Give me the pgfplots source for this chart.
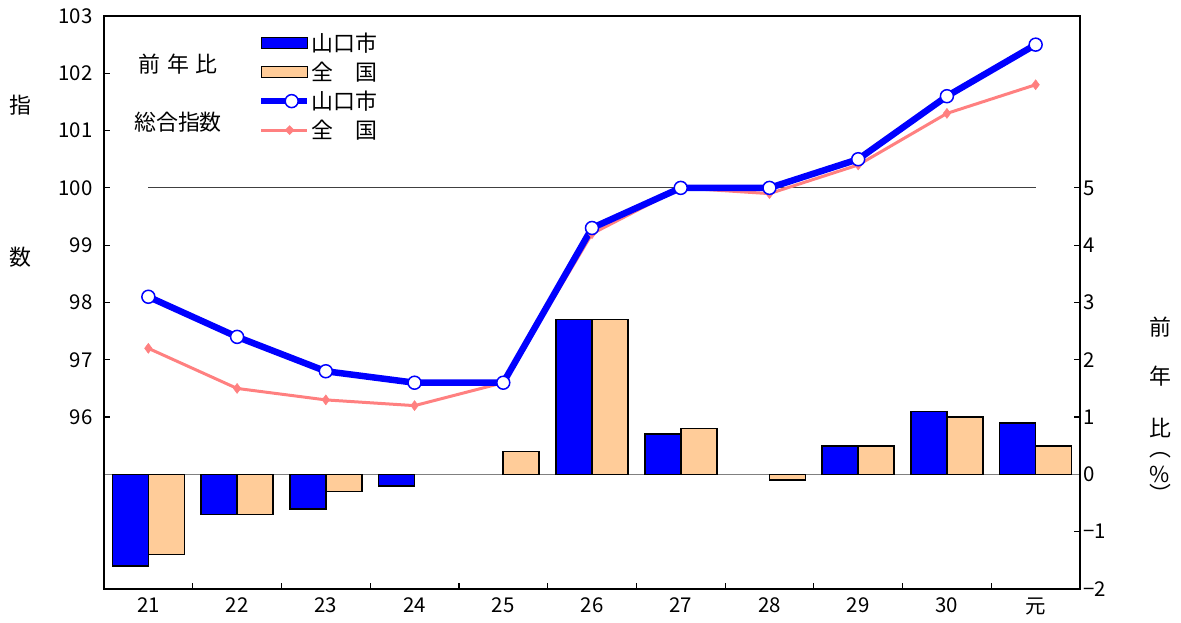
\documentclass[border=0pt]{standalone}
\usepackage{fontspec}
\setmainfont{Noto Sans CJK JP}
\usepackage{pgfplots}
\pgfplotsset{compat=1.18}
\usetikzlibrary{shapes.geometric}
\definecolor{ycol}{HTML}{0000FF}
\definecolor{ncol}{HTML}{FFCC99}
\definecolor{nline}{HTML}{FF8080}
\newcommand{\tf}{\fontsize{20.5}{22}\selectfont}
\newcommand{\jf}{\fontsize{22}{24}\selectfont}
\begin{document}
\begin{tikzpicture}[x=1bp,y=1bp]
\useasboundingbox (-104,-34) rectangle (1077,589);
% ---------- bars (right axis) ----------
\begin{axis}[at={(0,0)}, anchor=south west, scale only axis, width=976bp, height=573bp,
  xmin=-0.5, xmax=10.5, ymin=-2, ymax=8,
  axis x line=none, axis y line*=right, xtick=\empty,
  ytick={-2,-1,0,1,2,3,4,5}, yticklabels={−2,−1,0,1,2,3,4,5},
  yticklabel style={font=\tf},
  tick align=inside, major tick length=6bp,
  y axis line style={line width=2bp, -},
  ytick style={line width=1.2bp, black},
  clip=false]
\addplot[gray, line width=1.5bp, forget plot] coordinates {(-0.5,0) (10.5,0)};
\addplot[ybar, bar width=36bp, bar shift=-18bp, fill=ycol, draw=black, line width=1.6bp]
  coordinates {(0,-1.6) (1,-0.7) (2,-0.6) (3,-0.2) (5,2.7) (6,0.7) (8,0.5) (9,1.1) (10,0.9)};
\addplot[ybar, bar width=36bp, bar shift=18bp, fill=ncol, draw=black, line width=1.6bp]
  coordinates {(0,-1.4) (1,-0.7) (2,-0.3) (4,0.4) (5,2.7) (6,0.8) (7,-0.1) (8,0.5) (9,1.0) (10,0.5)};
\end{axis}
% ---------- lines (left axis) ----------
\begin{axis}[at={(0,0)}, anchor=south west, scale only axis, width=976bp, height=573bp,
  xmin=-0.5, xmax=10.5, ymin=93, ymax=103,
  ytick={96,97,98,99,100,101,102,103}, yticklabels={96,97,98,99,100,101,102,103},
  ytick pos=left, xtick pos=bottom,
  xtick={0,1,2,3,4,5,6,7,8,9,10}, xticklabels={21,22,23,24,25,26,27,28,29,30,元},
  major x tick style={draw=none},
  minor xtick={0.5,1.5,2.5,3.5,4.5,5.5,6.5,7.5,8.5,9.5}, minor tick length=6bp,
  minor x tick style={line width=1.2bp, black},
  tick align=inside, major tick length=6bp,
  ytick style={line width=1.2bp, black},
  yticklabel style={font=\tf, xshift=-8bp},
  xticklabel style={font=\tf, yshift=-5bp},
  axis line style={line width=2bp},
  legend style={at={(0.158,0.973)}, anchor=north west, draw=none, fill=none,
    font=\jf, row sep=6bp, inner sep=0pt,
    nodes={inner xsep=1bp, inner ysep=1.5bp}},
  legend cell align=left,
  clip=false]
\addlegendimage{legend image code/.code={\draw[fill=ycol,draw=black,line width=1.2bp] (0bp,-5.5bp) rectangle (46bp,5.5bp);}}
\addlegendimage{legend image code/.code={\draw[fill=ncol,draw=black,line width=1.2bp] (0bp,-5.5bp) rectangle (46bp,5.5bp);}}
\addlegendimage{legend image code/.code={\draw[ycol,line width=6bp] (0bp,0bp) -- (46bp,0bp); \node[circle,draw=ycol,fill=white,line width=1.5bp,inner sep=0pt,minimum size=13bp] at (23bp,0bp) {};}}
\addlegendimage{legend image code/.code={\draw[nline,line width=3bp] (0bp,0bp) -- (46bp,0bp); \node[diamond,fill=nline,inner sep=0pt,minimum size=10bp] at (23bp,0bp) {};}}
\addplot[black!75, line width=1.2bp, forget plot] coordinates {(0,100) (10,100)};
\addplot[nline, line width=3bp, mark=diamond*, mark size=5bp, mark options={fill=nline, draw=nline, line width=0.5bp}, forget plot]
  coordinates {(0,97.2) (1,96.5) (2,96.3) (3,96.2) (4,96.6) (5,99.2) (6,100.0) (7,99.9) (8,100.4) (9,101.3) (10,101.8)};
\addplot[ycol, line width=6.5bp, mark=*, mark size=6.5bp, mark options={fill=white, draw=ycol, line width=1.5bp}, forget plot]
  coordinates {(0,98.1) (1,97.4) (2,96.8) (3,96.6) (4,96.6) (5,99.3) (6,100.0) (7,100.0) (8,100.5) (9,101.6) (10,102.5)};
\legend{山口市,全　国,山口市,全　国}
\end{axis}
% ---------- texts ----------
\node[font=\jf] at (74,525) {前\hspace{7bp}年\hspace{7bp}比};
\node[font=\jf] at (74,467) {総合指数};
\node[font=\jf] at (-84,484) {指};
\node[font=\jf] at (-84,332) {数};
\node[font=\jf, inner sep=0pt] at (1056,262) {前};
\node[font=\jf, inner sep=0pt] at (1056,213) {年};
\node[font=\jf, inner sep=0pt] at (1056,161) {比};
\node[font=\jf, inner sep=0pt] at (1056,134) {︵};
\node[font=\jf, inner sep=0pt] at (1056,115) {\%};
\node[font=\jf, inner sep=0pt] at (1056,96) {︶};
\node[font=\jf, anchor=base east] at (981,604) {（総合指数　　平成27年＝100）};
\end{tikzpicture}
\end{document}
